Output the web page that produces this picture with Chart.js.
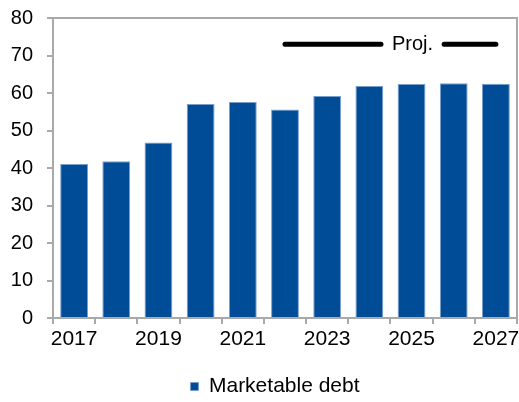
<!DOCTYPE html>
<html>
<head>
<meta charset="utf-8">
<script src="https://cdn.jsdelivr.net/npm/chart.js@4"></script>
<style>
  html, body { margin: 0; padding: 0; background: #fff; }
  #wrap { width: 519px; height: 402px; }
</style>
</head>
<body>
<div id="wrap"><canvas id="c" width="519" height="402"></canvas></div>
<script>
// ---- data ----
const categories = ['2017','2018','2019','2020','2021','2022','2023','2024','2025','2026','2027'];
const marketableDebt = [41.1, 41.8, 46.8, 57.1, 57.6, 55.6, 59.2, 61.9, 62.4, 62.6, 62.5];
const seriesName = 'Marketable debt';
const yMin = 0, yMax = 80, yStep = 10;
const projStart = '2022';
const projEnd = '2027';
const projLabelAt = '2025';
const projLevel = 73;
const projLabel = 'Proj.';

const FONT = '"Liberation Sans", Arial, sans-serif';
const AXIS = '#a9a9a9';

const frame = {
  id: 'frame',
  afterDraw(chart) {
    const { ctx, chartArea: a } = chart;
    ctx.save();
    ctx.strokeStyle = AXIS;
    ctx.lineWidth = 2;
    ctx.beginPath();
    ctx.moveTo(a.left, a.top);
    ctx.lineTo(a.right, a.top);
    ctx.lineTo(a.right, a.bottom);
    ctx.stroke();
    ctx.restore();
  }
};

const legendShift = {
  id: 'legendShift',
  afterLayout(chart) {
    const lg = chart.legend;
    if (lg) { lg.left = 33; }
  }
};

const proj = {
  id: 'proj',
  afterDatasetsDraw(chart) {
    const { ctx } = chart;
    const xs = chart.scales.x, ys = chart.scales.y;
    const x1 = xs.getPixelForValue(categories.indexOf(projStart));
    const x2 = xs.getPixelForValue(categories.indexOf(projEnd));
    const xm = xs.getPixelForValue(categories.indexOf(projLabelAt)) + 1;
    const y = ys.getPixelForValue(projLevel);
    ctx.save();
    ctx.font = '20px ' + FONT;
    const w = ctx.measureText(projLabel).width;
    const gap = 11;
    ctx.strokeStyle = '#000';
    ctx.lineWidth = 5;
    ctx.lineCap = 'round';
    ctx.beginPath();
    ctx.moveTo(x1, y);
    ctx.lineTo(xm - w / 2 - gap, y);
    ctx.moveTo(xm + w / 2 + gap, y);
    ctx.lineTo(x2, y);
    ctx.stroke();
    ctx.fillStyle = '#000';
    ctx.textAlign = 'center';
    ctx.textBaseline = 'alphabetic';
    ctx.fillText(projLabel, xm, y + 6);
    ctx.restore();
  }
};

new Chart(document.getElementById('c'), {
  type: 'bar',
  data: {
    labels: categories,
    datasets: [{
      label: seriesName,
      data: marketableDebt,
      backgroundColor: '#004C97',
      borderColor: '#7b9fcc',
      borderWidth: 1,
      categoryPercentage: 1.0,
      barPercentage: 0.66
    }]
  },
  options: {
    responsive: false,
    animation: false,
    devicePixelRatio: 1,
    layout: { padding: { left: 8, right: 2, top: 18, bottom: -5 } },
    plugins: {
      tooltip: { enabled: false },
      legend: {
        position: 'bottom',
        labels: {
          boxWidth: 8,
          boxHeight: 8,
          color: '#000',
          font: { family: FONT, size: 21 },
          padding: 5
        }
      }
    },
    scales: {
      x: {
        offset: true,
        afterFit(scale) { scale.height = 53; scale.paddingLeft = 0; scale.paddingRight = 0; },
        grid: {
          offset: true,
          drawOnChartArea: false,
          drawTicks: true,
          tickLength: 6,
          color: AXIS,
          lineWidth: 2
        },
        border: { display: true, color: AXIS, width: 2 },
        ticks: {
          autoSkip: false,
          maxRotation: 0,
          minRotation: 0,
          color: '#000',
          padding: 3,
          font: { family: FONT, size: 21 },
          callback: function (v, i) { return i % 2 === 0 ? categories[i] : ''; }
        }
      },
      y: {
        min: yMin,
        max: yMax,
        afterFit(scale) { scale.width = 45; scale.paddingTop = 0; scale.paddingBottom = 0; },
        grid: {
          drawOnChartArea: false,
          drawTicks: true,
          tickLength: 6,
          color: AXIS,
          lineWidth: 2
        },
        border: { display: true, color: AXIS, width: 2 },
        ticks: {
          stepSize: yStep,
          color: '#000',
          padding: 14,
          font: { family: FONT, size: 20 }
        }
      }
    }
  },
  plugins: [frame, legendShift, proj]
});
</script>
</body>
</html>
